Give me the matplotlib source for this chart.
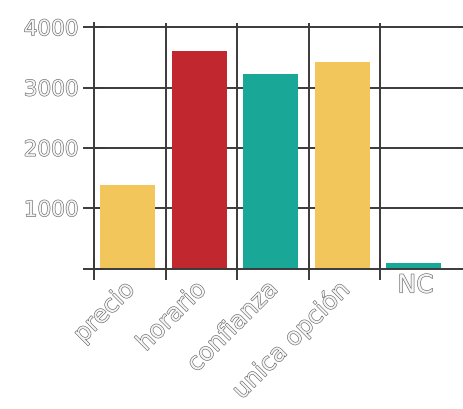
import matplotlib
matplotlib.use("Agg")
import matplotlib.pyplot as plt
import matplotlib.patheffects as pe
from matplotlib.transforms import ScaledTranslation, blended_transform_factory

# Data
categories = ["precio", "horario", "confianza", "unica opción", "NC"]
values = [1380, 3610, 3220, 3430, 90]
colors = ["#F2C65B", "#C1272F", "#19A898", "#F2C65B", "#19A898"]
yticks = [0, 1000, 2000, 3000, 4000]
ytick_labels = ["", "1000", "2000", "3000", "4000"]

W, H = 463, 409
fig = plt.figure(figsize=(W / 100, H / 100), dpi=100)
fig.patch.set_facecolor("white")

left_px, bottom_px, top_px = 94.3, 268.5, 23.0
ax = fig.add_axes([left_px / W, (H - bottom_px) / H,
                   (W - left_px) / W, (bottom_px - top_px) / H])

cat_px = 71.4
ax.set_xlim(0, (W - left_px) / cat_px)
ax.set_ylim(0, 4071)

line_col = "#3a3a3a"
line_w = 1.4

positions = [i + 0.47 for i in range(len(categories))]
ax.bar(positions, values, width=0.77, color=colors, zorder=2)

# frame: only left and bottom
for s in ("top", "right"):
    ax.spines[s].set_visible(False)
for s in ("left", "bottom"):
    ax.spines[s].set_color(line_col)
    ax.spines[s].set_linewidth(line_w)
    ax.spines[s].set_zorder(3)

# horizontal grid
for y in yticks[1:]:
    ax.axhline(y, color=line_col, lw=line_w, zorder=1)
# vertical separators between categories
for i in range(1, len(categories)):
    ax.axvline(i, color=line_col, lw=line_w, zorder=1)

# hollow grey lettering
text_fx = [pe.Stroke(linewidth=0.8, foreground="#5c5c5c"), pe.Normal()]
font = "DejaVu Sans"

ax.set_yticks(yticks)
ax.set_yticklabels(ytick_labels)
ax.tick_params(axis="y", direction="inout", length=16, width=line_w,
               color=line_col, pad=3.5, labelsize=15.5)
for lab in ax.get_yticklabels():
    lab.set_color("#f4f4f4")
    lab.set_path_effects(text_fx)
    lab.set_family(font)

ax.set_xticks(range(len(categories)))
ax.set_xticklabels([])
ax.tick_params(axis="x", direction="inout", length=16, width=line_w,
               color=line_col)

# category labels
trans = blended_transform_factory(ax.transData, ax.transAxes)
for i, name in enumerate(categories):
    cx = i + 0.5
    if len(name) > 3:
        off = ScaledTranslation(1 / 100, -17 / 100, fig.dpi_scale_trans)
        ax.text(cx, 0, name, transform=trans + off, rotation=45,
                rotation_mode="anchor", ha="right", va="center",
                fontsize=17.5, family=font, color="#f4f4f4",
                path_effects=text_fx)
    else:
        off = ScaledTranslation(0, -5 / 100, fig.dpi_scale_trans)
        ax.text(cx, 0, name, transform=trans + off, ha="center", va="top",
                fontsize=18, family=font, color="#f4f4f4",
                path_effects=text_fx)

fig.savefig("out.png", dpi=100, facecolor="white")
